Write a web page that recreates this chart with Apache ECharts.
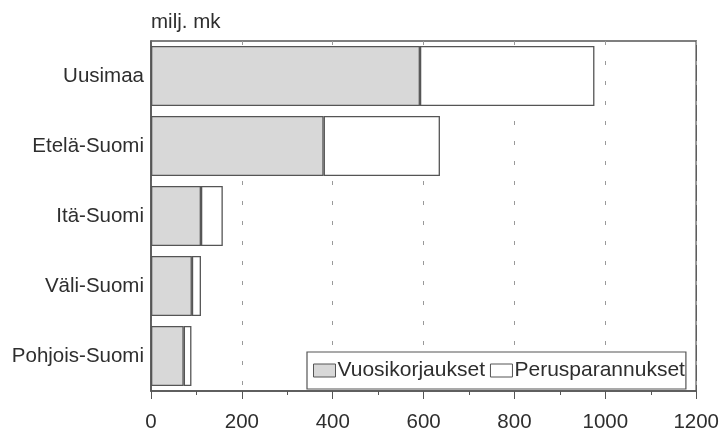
<!DOCTYPE html>
<html>
<head>
<meta charset="utf-8">
<script src="https://cdn.jsdelivr.net/npm/echarts@6/dist/echarts.min.js"></script>
<style>
html,body{margin:0;padding:0;background:#fff;}
#chart{width:722px;height:433px;}
</style>
</head>
<body>
<div id="chart"></div>
<script>
var categories = ['Uusimaa', 'Etelä-Suomi', 'Itä-Suomi', 'Väli-Suomi', 'Pohjois-Suomi'];
var vuosikorjaukset = [592, 380, 110, 90, 72];
var perusparannukset = [384, 256, 48, 20, 17];
var xTicks = [0, 200, 400, 600, 800, 1000, 1200];
var unitLabel = 'milj. mk';

var FONT = 'Liberation Sans, Arial, Helvetica, sans-serif';
var chart = echarts.init(document.getElementById('chart'), null, {renderer: 'canvas'});
chart.setOption({
  animation: false,
  backgroundColor: '#fff',
  title: {
    text: unitLabel, left: 151, top: 12, padding: 0,
    textStyle: {fontFamily: FONT, fontSize: 20.5, fontWeight: 'normal', color: '#2e2e2e'}
  },
  legend: {
    left: 307, top: 352,
    orient: 'horizontal',
    itemWidth: 22, itemHeight: 13, itemGap: 5,
    padding: [8, 1, 8, 6],
    borderColor: '#555', borderWidth: 1.2,
    backgroundColor: '#fff',
    textStyle: {fontFamily: FONT, fontSize: 21, color: '#2e2e2e', padding: [0, 0, 0, -3]},
    data: [
      {name: 'Vuosikorjaukset', icon: 'rect', itemStyle: {color: '#d8d8d8', borderColor: '#555', borderWidth: 1}},
      {name: 'Perusparannukset', icon: 'rect', itemStyle: {color: '#fff', borderColor: '#555', borderWidth: 1}}
    ]
  },
  grid: {
    left: 151, right: 25, top: 41, bottom: 40,
    show: true, borderColor: '#555', borderWidth: 1.5, backgroundColor: 'transparent'
  },
  xAxis: {
    type: 'value', min: xTicks[0], max: xTicks[xTicks.length - 1], interval: xTicks[1] - xTicks[0],
    axisLine: {show: true, lineStyle: {color: '#555', width: 1.5}},
    axisTick: {show: true, inside: false, length: 8, lineStyle: {color: '#555', width: 1}},
    minorTick: {show: true, splitNumber: 2, length: 4, lineStyle: {color: '#555', width: 1}},
    axisLabel: {fontFamily: FONT, fontSize: 20.5, color: '#2e2e2e', margin: 21,
      formatter: function (v) { return xTicks.indexOf(v) >= 0 ? String(v) : ''; }},
    splitLine: {show: true, lineStyle: {color: '#999', width: 1, type: [4, 16]}},
    minorSplitLine: {show: false}
  },
  yAxis: {
    type: 'category', data: categories, inverse: true,
    axisLine: {show: true, lineStyle: {color: '#555', width: 1.5}},
    axisTick: {show: false},
    axisLabel: {fontFamily: FONT, fontSize: 20.5, color: '#2e2e2e', margin: 7},
    splitLine: {show: false}
  },
  series: [
    {
      name: 'Vuosikorjaukset', type: 'bar', stack: 'total', barWidth: 60,
      data: vuosikorjaukset,
      itemStyle: {color: '#d8d8d8', borderColor: '#555', borderWidth: 1.3}
    },
    {
      name: 'Perusparannukset', type: 'bar', stack: 'total', barWidth: 60,
      data: perusparannukset,
      itemStyle: {color: '#fff', borderColor: '#555', borderWidth: 1.3}
    }
  ]
});
</script>
</body>
</html>
